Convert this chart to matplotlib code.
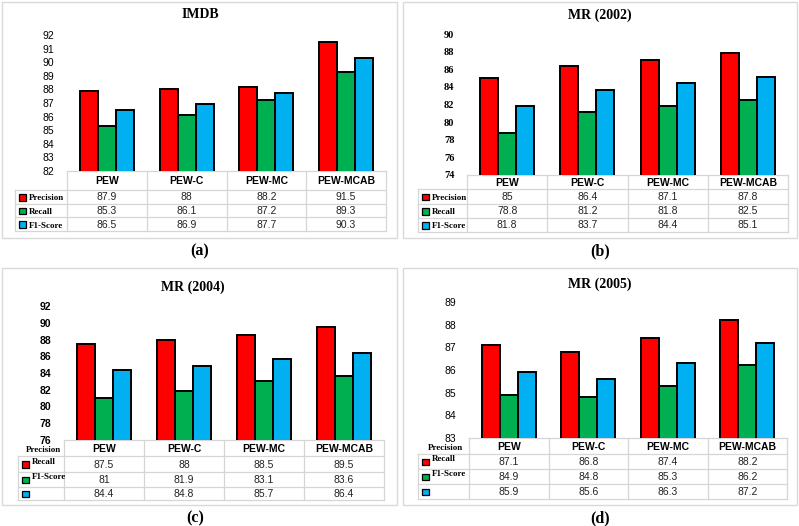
import matplotlib.pyplot as plt
from matplotlib.patches import Rectangle

# ---------------------------------------------------------------------
# Data
# ---------------------------------------------------------------------

methods = ["PEW", "PEW-C", "PEW-MC", "PEW-MCAB"]
metrics = ["Precision", "Recall", "F1-Score"]

imdb_precision = [87.9, 88, 88.2, 91.5]
imdb_recall = [85.3, 86.1, 87.2, 89.3]
imdb_f1 = [86.5, 86.9, 87.7, 90.3]

mr2002_precision = [85, 86.4, 87.1, 87.8]
mr2002_recall = [78.8, 81.2, 81.8, 82.5]
mr2002_f1 = [81.8, 83.7, 84.4, 85.1]

mr2004_precision = [87.5, 88, 88.5, 89.5]
mr2004_recall = [81, 81.9, 83.1, 83.6]
mr2004_f1 = [84.4, 84.8, 85.7, 86.4]

mr2005_precision = [87.1, 86.8, 87.4, 88.2]
mr2005_recall = [84.9, 84.8, 85.3, 86.2]
mr2005_f1 = [85.9, 85.6, 86.3, 87.2]

colors = ["#FF0000", "#00B050", "#00B0F0"]

W, H = 799, 526
fig = plt.figure(figsize=(W / 100, H / 100), dpi=100)
fig.patch.set_facecolor("white")

# overlay canvas in pixel units for frames, table grid and captions
canvas = fig.add_axes([0, 0, 1, 1], zorder=0)
canvas.set_xlim(0, W)
canvas.set_ylim(H, 0)
canvas.axis("off")

SERIF = "Liberation Serif"
SANS = "Liberation Sans"
GRID = "#D6D6D6"


def panel(title, caption, series, ylim, ystep, tick_style, frame, plot_x, plot_y,
          legend_x, rows_y, title_xy, caption_xy, shifted_labels=False):
    fx0, fy0, fx1, fy1 = frame
    canvas.add_patch(Rectangle((fx0, fy0), fx1 - fx0, fy1 - fy0, fill=False,
                               ec="#D9D9D9", lw=1.0))
    canvas.text(*title_xy, title, family=SERIF, weight="bold", fontsize=10,
                ha="center", va="center")
    canvas.text(*caption_xy, caption, family=SERIF, weight="bold", fontsize=11.5,
                ha="center", va="center")

    x0, x1 = plot_x
    ytop, ybot = plot_y
    ax = fig.add_axes([x0 / W, 1 - ybot / H, (x1 - x0) / W, (ybot - ytop) / H],
                      zorder=2)
    ax.patch.set_alpha(0)
    bw = 0.225
    for i, vals in enumerate(series):
        ax.bar([k + (i - 1) * bw for k in range(len(methods))], vals, width=bw,
               color=colors[i], edgecolor="black", lw=1.4)
    ax.set_xlim(-0.5, len(methods) - 0.5)
    ax.set_ylim(*ylim)
    ticks = list(range(ylim[0], ylim[1] + 1, ystep))
    ax.set_yticks(ticks)
    fam, wt = tick_style
    ax.set_yticklabels([str(t) for t in ticks], family=fam, weight=wt, fontsize=7.5)
    ax.tick_params(axis="y", length=0, pad=9)
    ax.set_xticks([])
    for s in ax.spines.values():
        s.set_visible(False)

    # data table
    col_w = (x1 - x0) / len(methods)
    cols = [x0 + k * col_w for k in range(len(methods) + 1)]
    y_head, y_r1, y_r2, y_r3, y_end = rows_y
    row_lines = [y_r1, y_r2, y_r3, y_end]
    canvas.plot([x0, x1], [y_head, y_head], color=GRID, lw=0.9)
    for y in row_lines:
        canvas.plot([legend_x, x1], [y, y], color=GRID, lw=0.9)
    canvas.plot([legend_x, legend_x], [y_r1, y_end], color=GRID, lw=0.9)
    for c in cols:
        canvas.plot([c, c], [y_head, y_end], color=GRID, lw=0.9)
    for k, m in enumerate(methods):
        canvas.text(cols[k] + col_w / 2, (y_head + y_r1) / 2 + 1, m, family=SANS,
                    weight="bold", fontsize=7.5, ha="center", va="center")
    row_mid = [(row_lines[j] + row_lines[j + 1]) / 2 for j in range(3)]
    for j, vals in enumerate(series):
        for k, v in enumerate(vals):
            canvas.text(cols[k] + col_w / 2, row_mid[j] + 0.5, f"{v:g}", family=SANS,
                        fontsize=7.5, ha="center", va="center", color="#222222")
        canvas.add_patch(Rectangle((legend_x + 4, row_mid[j] - 3), 6.5, 6.5,
                                   fc=colors[j], ec="black", lw=0.9, zorder=3))
    if shifted_labels:
        # the source figure has its legend labels pushed up one row
        canvas.text((legend_x + x0) / 2 + 2, (y_head + y_r1) / 2 + 2, metrics[0],
                    family=SERIF, weight="bold", fontsize=6.5, ha="center",
                    va="center")
        for j in (1, 2):
            canvas.text(legend_x + 14, row_mid[j - 1] - 2.5, metrics[j],
                        family=SERIF, weight="bold", fontsize=6.5, ha="left",
                        va="center")
    else:
        for j, m in enumerate(metrics):
            canvas.text(legend_x + 14, row_mid[j] + 1.5, m, family=SERIF,
                        weight="bold", fontsize=6.5, ha="left", va="center")


panel("IMDB", "(a)", [imdb_precision, imdb_recall, imdb_f1], (82, 92), 1,
      (SANS, "normal"), (2, 2, 397, 238), (67, 386), (35, 171), 15,
      (171, 190, 204, 217, 231), (200, 15), (200, 251))

panel("MR (2002)", "(b)", [mr2002_precision, mr2002_recall, mr2002_f1], (74, 90), 2,
      (SERIF, "bold"), (403, 2, 797, 238), (467, 788), (34, 175), 418,
      (175, 189, 204, 218, 232), (600, 15), (600, 251))

panel("MR (2004)", "(c)", [mr2004_precision, mr2004_recall, mr2004_f1], (76, 92), 2,
      (SANS, "bold"), (2, 268, 397, 505), (64, 384), (306, 440), 18,
      (440, 456, 472, 487, 500), (193, 287), (195, 518), shifted_labels=True)

panel("MR (2005)", "(d)", [mr2005_precision, mr2005_recall, mr2005_f1], (83, 89), 1,
      (SANS, "normal"), (403, 268, 797, 505), (469, 787), (302, 438), 418,
      (438, 454, 469, 484, 499), (600, 284), (600, 518), shifted_labels=True)

plt.savefig("out.png", dpi=100)
